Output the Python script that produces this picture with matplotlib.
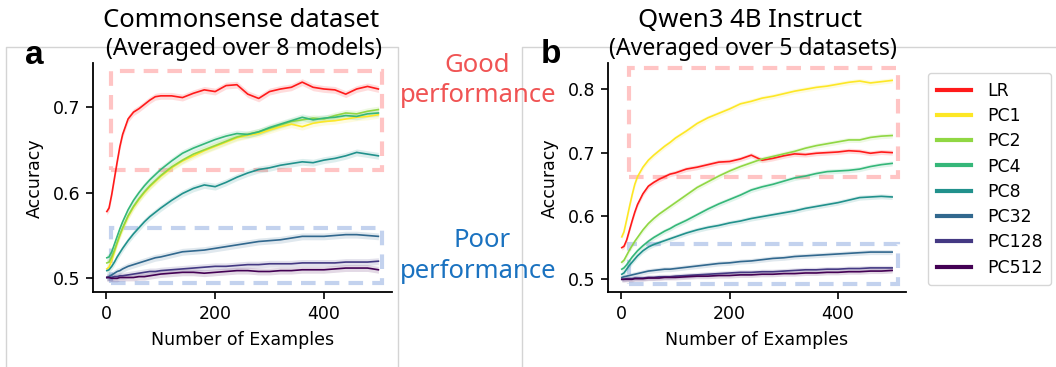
import numpy as np
import matplotlib
matplotlib.use("Agg")
import matplotlib.pyplot as plt
from matplotlib.patches import Rectangle
from matplotlib.lines import Line2D

# ---------------- data ----------------
x_examples = [1, 5, 10, 15, 20, 25, 30, 40, 50, 60, 70, 80, 90, 100, 120, 140, 160, 180,
              200, 220, 240, 260, 280, 300, 320, 340, 360, 380, 400, 420, 440, 460, 480, 500]

series_names = ["LR", "PC1", "PC2", "PC4", "PC8", "PC32", "PC128", "PC512"]

# Panel a: Commonsense dataset
a_LR = [0.578, 0.582, 0.598, 0.617, 0.636, 0.654, 0.668, 0.686, 0.694, 0.698, 0.703, 0.708, 0.712, 0.713,
        0.713, 0.711, 0.716, 0.720, 0.718, 0.725, 0.726, 0.715, 0.710, 0.718, 0.721, 0.723, 0.729, 0.723,
        0.721, 0.720, 0.715, 0.721, 0.724, 0.721]
a_PC1 = [0.511, 0.513, 0.521, 0.531, 0.541, 0.550, 0.558, 0.572, 0.583, 0.592, 0.600, 0.607, 0.613, 0.619,
         0.629, 0.637, 0.643, 0.649, 0.654, 0.659, 0.664, 0.667, 0.669, 0.673, 0.677, 0.680, 0.677, 0.681,
         0.683, 0.684, 0.686, 0.688, 0.689, 0.691]
a_PC2 = [0.518, 0.519, 0.525, 0.533, 0.542, 0.551, 0.559, 0.573, 0.584, 0.593, 0.601, 0.608, 0.614, 0.620,
         0.630, 0.638, 0.645, 0.650, 0.655, 0.660, 0.665, 0.668, 0.671, 0.675, 0.679, 0.683, 0.685, 0.687,
         0.686, 0.690, 0.693, 0.692, 0.695, 0.697]
a_PC4 = [0.524, 0.525, 0.531, 0.540, 0.549, 0.558, 0.566, 0.580, 0.591, 0.600, 0.608, 0.615, 0.621, 0.627,
         0.637, 0.646, 0.652, 0.657, 0.662, 0.666, 0.669, 0.668, 0.671, 0.676, 0.680, 0.684, 0.688, 0.685,
         0.687, 0.688, 0.690, 0.689, 0.692, 0.693]
a_PC8 = [0.509, 0.510, 0.514, 0.519, 0.525, 0.530, 0.535, 0.544, 0.552, 0.559, 0.566, 0.572, 0.577, 0.582,
         0.591, 0.599, 0.605, 0.609, 0.607, 0.612, 0.618, 0.623, 0.627, 0.629, 0.632, 0.634, 0.636, 0.635,
         0.638, 0.640, 0.643, 0.647, 0.645, 0.643]
a_PC32 = [0.501, 0.502, 0.504, 0.506, 0.508, 0.509, 0.511, 0.514, 0.516, 0.518, 0.520, 0.522, 0.524, 0.525,
          0.528, 0.531, 0.532, 0.533, 0.535, 0.537, 0.539, 0.541, 0.543, 0.544, 0.545, 0.547, 0.549, 0.549,
          0.549, 0.550, 0.551, 0.551, 0.550, 0.549]
a_PC128 = [0.501, 0.501, 0.501, 0.502, 0.502, 0.503, 0.503, 0.504, 0.505, 0.506, 0.507, 0.508, 0.508, 0.509,
           0.510, 0.511, 0.512, 0.513, 0.514, 0.514, 0.515, 0.516, 0.516, 0.517, 0.517, 0.517, 0.518, 0.518,
           0.518, 0.518, 0.519, 0.519, 0.519, 0.520]
a_PC512 = [0.501, 0.501, 0.500, 0.500, 0.500, 0.501, 0.501, 0.501, 0.501, 0.502, 0.502, 0.503, 0.504, 0.505,
           0.506, 0.507, 0.507, 0.506, 0.507, 0.508, 0.509, 0.509, 0.508, 0.508, 0.509, 0.509, 0.510, 0.510,
           0.510, 0.511, 0.512, 0.512, 0.512, 0.510]

# Panel b: Qwen3 4B Instruct
b_LR = [0.550, 0.552, 0.562, 0.577, 0.592, 0.606, 0.618, 0.635, 0.647, 0.653, 0.658, 0.662, 0.666, 0.668,
        0.674, 0.677, 0.681, 0.685, 0.686, 0.690, 0.696, 0.688, 0.691, 0.695, 0.698, 0.697, 0.699, 0.700,
        0.701, 0.703, 0.702, 0.699, 0.701, 0.700]
b_PC1 = [0.567, 0.575, 0.594, 0.614, 0.633, 0.650, 0.662, 0.677, 0.688, 0.696, 0.703, 0.710, 0.716, 0.723,
         0.734, 0.746, 0.755, 0.762, 0.769, 0.777, 0.781, 0.786, 0.789, 0.793, 0.797, 0.800, 0.803, 0.805,
         0.808, 0.811, 0.813, 0.810, 0.812, 0.814]
b_PC2 = [0.527, 0.530, 0.538, 0.546, 0.553, 0.560, 0.566, 0.578, 0.588, 0.596, 0.603, 0.609, 0.615, 0.621,
         0.633, 0.645, 0.654, 0.663, 0.671, 0.678, 0.684, 0.690, 0.694, 0.698, 0.702, 0.707, 0.711, 0.714,
         0.717, 0.720, 0.720, 0.724, 0.726, 0.727]
b_PC4 = [0.516, 0.518, 0.523, 0.529, 0.535, 0.540, 0.545, 0.553, 0.560, 0.566, 0.571, 0.576, 0.580, 0.585,
         0.593, 0.602, 0.611, 0.619, 0.626, 0.633, 0.641, 0.646, 0.650, 0.655, 0.660, 0.663, 0.667, 0.670,
         0.671, 0.672, 0.674, 0.678, 0.681, 0.683]
b_PC8 = [0.508, 0.510, 0.516, 0.522, 0.527, 0.532, 0.537, 0.545, 0.551, 0.555, 0.558, 0.561, 0.564, 0.567,
         0.573, 0.578, 0.582, 0.585, 0.589, 0.592, 0.596, 0.599, 0.602, 0.605, 0.608, 0.612, 0.615, 0.618,
         0.621, 0.625, 0.629, 0.630, 0.631, 0.630]
b_PC32 = [0.503, 0.504, 0.505, 0.506, 0.507, 0.508, 0.509, 0.511, 0.513, 0.514, 0.515, 0.516, 0.516, 0.517,
          0.519, 0.521, 0.523, 0.525, 0.526, 0.528, 0.529, 0.531, 0.533, 0.534, 0.536, 0.537, 0.538, 0.539,
          0.540, 0.541, 0.542, 0.543, 0.543, 0.543]
b_PC128 = [0.500, 0.500, 0.501, 0.501, 0.501, 0.502, 0.502, 0.502, 0.503, 0.503, 0.504, 0.504, 0.504, 0.505,
           0.506, 0.507, 0.508, 0.509, 0.510, 0.511, 0.511, 0.512, 0.512, 0.513, 0.514, 0.515, 0.515, 0.516,
           0.516, 0.517, 0.517, 0.518, 0.518, 0.518]
b_PC512 = [0.500, 0.500, 0.500, 0.500, 0.500, 0.501, 0.501, 0.501, 0.502, 0.502, 0.502, 0.503, 0.503, 0.503,
           0.504, 0.505, 0.505, 0.506, 0.506, 0.507, 0.507, 0.508, 0.508, 0.509, 0.509, 0.510, 0.510, 0.511,
           0.511, 0.512, 0.512, 0.513, 0.513, 0.514]

panel_a = [a_LR, a_PC1, a_PC2, a_PC4, a_PC8, a_PC32, a_PC128, a_PC512]
panel_b = [b_LR, b_PC1, b_PC2, b_PC4, b_PC8, b_PC32, b_PC128, b_PC512]

# highlight boxes: (x0, x1, y0, y1)
a_good_box = (8, 507, 0.627, 0.742)
a_poor_box = (8, 507, 0.494, 0.559)
b_good_box = (15, 510, 0.661, 0.833)
b_poor_box = (15, 510, 0.493, 0.555)

x_ticks = [0, 200, 400]
a_yticks = [0.5, 0.6, 0.7]
b_yticks = [0.5, 0.6, 0.7, 0.8]

# ---------------- style ----------------
W, H = 1056, 367
fig = plt.figure(figsize=(W / 100, H / 100), dpi=100)

def fx(px):
    return px / W

def fy(py):
    return 1 - py / H

colors = ["#ff1a1a"] + [matplotlib.colormaps["viridis"](v) for v in np.linspace(1, 0, 7)]
band = 0.004
TICK_FS = 12.5
TITLE_FONT = ["Noto Sans", "DejaVu Sans"]
PINK = "#ffc4c4"
BLUE = "#c3d2ee"

# gray frames of the two panels
fig.add_artist(Line2D([fx(6), fx(6), fx(398), fx(398)], [0, fy(47), fy(47), 0],
                      color="#d4d4d4", lw=1.0, transform=fig.transFigure))
fig.add_artist(Line2D([fx(522), fx(522), 1.0], [0, fy(47), fy(47)],
                      color="#d4d4d4", lw=1.0, transform=fig.transFigure))

axA = fig.add_axes([fx(92.7), fy(292.3), fx(392) - fx(92.7), fy(63.3) - fy(292.3)])
axB = fig.add_axes([fx(607.7), fy(292.3), fx(905.7) - fx(607.7), fy(63.3) - fy(292.3)])

def draw(ax, data, boxes, ylim, yticks):
    xs = np.array(x_examples)
    for name, vals, c in zip(series_names, data, colors):
        v = np.array(vals)
        ax.fill_between(xs, v - band, v + band, color=c, alpha=0.15, lw=0)
        ax.plot(xs, v, color=c, lw=1.2, label=name)
    for (x0, x1, y0, y1), col in zip(boxes, [PINK, BLUE]):
        ax.add_patch(Rectangle((x0, y0), x1 - x0, y1 - y0, fill=False, edgecolor=col,
                               lw=3, ls=(0, (3.5, 2.2)), zorder=0.5, clip_on=False))
    ax.set_xlim(-25, 525)
    ax.set_ylim(*ylim)
    ax.set_xticks(x_ticks)
    ax.set_yticks(yticks)
    ax.set_yticklabels([f"{t:.1f}" for t in yticks])
    for s in ["top", "right"]:
        ax.spines[s].set_visible(False)
    for s in ["left", "bottom"]:
        ax.spines[s].set_linewidth(1.3)
    ax.tick_params(labelsize=TICK_FS, length=5, width=1.2, pad=4)
    ax.set_xlabel("Number of Examples", fontsize=TICK_FS, labelpad=6)
    ax.set_ylabel("Accuracy", fontsize=TICK_FS, labelpad=6)

draw(axA, panel_a, [a_good_box, a_poor_box], (0.4837, 0.751), a_yticks)
draw(axB, panel_b, [b_good_box, b_poor_box], (0.4795, 0.841), b_yticks)

# titles
fig.text(fx(241), fy(26.7), "Commonsense dataset", ha="center", va="baseline",
         fontsize=18.5, family=TITLE_FONT)
fig.text(fx(244), fy(55), "(Averaged over 8 models)", ha="center", va="baseline",
         fontsize=16.6, family=TITLE_FONT)
fig.text(fx(750.3), fy(26.7), "Qwen3 4B Instruct", ha="center", va="baseline",
         fontsize=18.5, family=TITLE_FONT)
fig.text(fx(752.8), fy(55), "(Averaged over 5 datasets)", ha="center", va="baseline",
         fontsize=16.6, family=TITLE_FONT)

# panel letters
fig.text(fx(34), fy(64), "a", ha="center", va="baseline", fontsize=24, fontweight="bold",
         family=["Liberation Sans", "DejaVu Sans"])
fig.text(fx(551), fy(63), "b", ha="center", va="baseline", fontsize=24, fontweight="bold",
         family=["Liberation Sans", "DejaVu Sans"])

# annotations
GOOD_C = "#f05454"
POOR_C = "#1a72c0"
fig.text(fx(477), fy(71.7), "Good", ha="center", va="baseline", fontsize=18.5,
         color=GOOD_C, family=TITLE_FONT)
fig.text(fx(478), fy(101.7), "performance", ha="center", va="baseline", fontsize=18.5,
         color=GOOD_C, family=TITLE_FONT)
fig.text(fx(481.7), fy(246.7), "Poor", ha="center", va="baseline", fontsize=18.5,
         color=POOR_C, family=TITLE_FONT)
fig.text(fx(478), fy(278), "performance", ha="center", va="baseline", fontsize=18.5,
         color=POOR_C, family=TITLE_FONT)

# legend
handles = [Line2D([], [], color=c, lw=3) for c in colors]
fig.legend(handles, series_names, loc="upper left", bbox_to_anchor=(fx(928), fy(73)),
           fontsize=TICK_FS, frameon=True, handlelength=2.0, borderaxespad=0,
           labelspacing=0.42, handletextpad=0.9, borderpad=0.5,
           edgecolor="#cccccc", fancybox=True)

fig.savefig("out.png", dpi=100)
